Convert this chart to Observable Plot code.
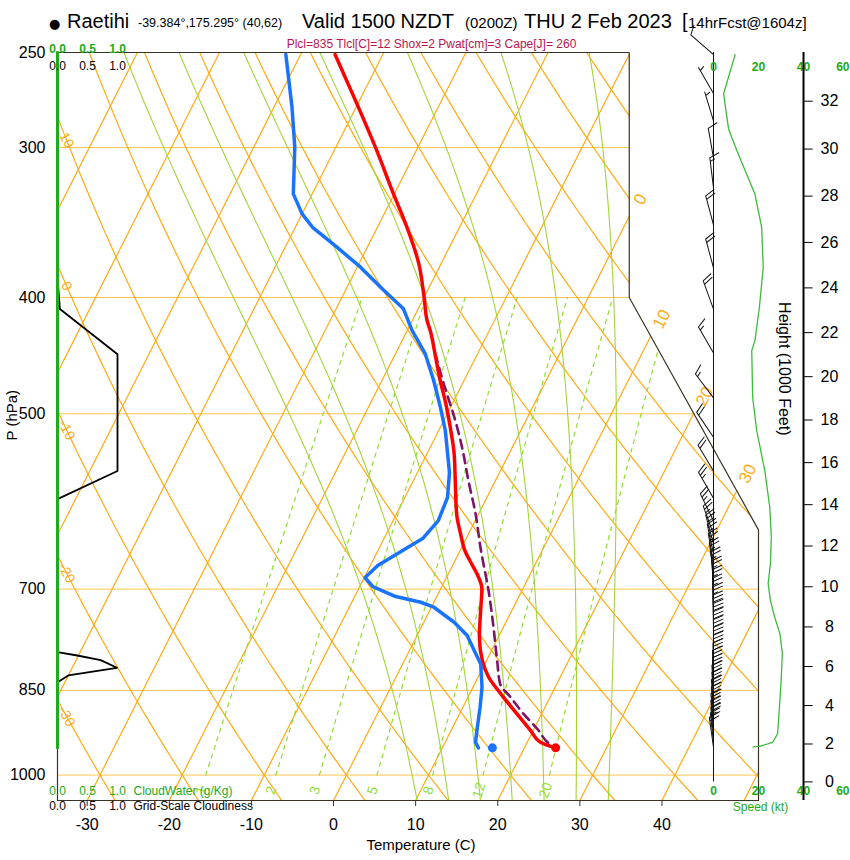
<!DOCTYPE html>
<html><head><meta charset="utf-8">
<script src="https://cdn.jsdelivr.net/npm/d3@7"></script>
<script src="https://cdn.jsdelivr.net/npm/@observablehq/plot@0.6"></script>
<style>
body{margin:0;background:#fff;font-family:"Liberation Sans",Arial,sans-serif;}
#wrap{position:relative;width:850px;height:860px;overflow:hidden;background:#fff;}
#wrap svg{position:absolute;left:0;top:0;}
.t{position:absolute;white-space:nowrap;line-height:1;color:#000;font-family:"Liberation Sans",Arial,sans-serif;}
</style></head><body><div id="wrap"></div>
<script>
// ---------------- DATA ----------------
const station = "Raetihi";
const stationInfo = "-39.384°,175.295° (40,62)";
const validText = "Valid 1500 NZDT";
const utcText = "(0200Z)";
const dateText = "THU 2 Feb 2023";
const fcstText = "14hrFcst@1604z]";
const statsText = "Plcl=835 Tlcl[C]=12 Shox=2 Pwat[cm]=3 Cape[J]= 260";

// temperature profile (hPa, °C)
const tempP = [251.0, 275.9, 301.8, 327.9, 349.6, 375.0, 399.8, 418.1, 426.2, 448.6, 469.1, 490.3, 513.1, 539.7, 568.4, 605.5, 629.1, 652.5, 662.6, 684.2, 699.2, 729.3, 767.7, 802.8, 828.9, 855.7, 889.2, 918.2, 939.0, 949.1];
const tempT = [-45.8, -40.1, -34.8, -30.1, -26.4, -22.7, -20.0, -18.2, -17.2, -14.9, -12.9, -10.8, -8.8, -6.7, -4.9, -2.7, -1.0, 0.8, 1.8, 3.9, 5.0, 6.2, 7.7, 9.5, 11.3, 13.8, 17.0, 19.7, 21.6, 23.8];
// dew point profile
const dewP = [251.0, 277.7, 299.8, 327.9, 340.7, 349.6, 363.2, 377.4, 394.7, 408.8, 426.2, 445.4, 469.1, 494.1, 516.3, 559.7, 587.2, 613.7, 635.2, 669.0, 684.6, 696.5, 710.0, 717.8, 724.7, 745.9, 765.1, 785.0, 807.9, 844.9, 878.0, 912.4, 939.0, 949.1];
const dewT = [-51.8, -47.8, -45.0, -42.3, -40.0, -37.9, -33.7, -29.6, -25.3, -21.8, -19.4, -16.4, -13.7, -11.2, -9.2, -6.1, -4.8, -4.5, -5.3, -9.1, -9.9, -8.4, -5.0, -1.6, 0.3, 3.7, 6.1, 7.7, 9.5, 11.1, 12.1, 13.0, 13.7, 14.4];
// lifted parcel
const parcelP = [445.2, 471.8, 506.5, 533.5, 568.4, 605.5, 646.3, 706.3, 753.1, 802.8, 839.5, 861.3, 889.2, 915.2, 945.0, 949.1];
const parcelT = [-15.2, -12.3, -8.6, -6.1, -3.3, -0.4, 2.3, 6.2, 8.8, 11.3, 13.1, 15.2, 17.8, 20.4, 23.2, 23.8];
// surface values
const surfaceP = [949.1];
const surfaceT = [23.8];
const surfaceTd = [16.1];
// grid-scale cloudiness (fraction) and cloud water (g/kg)
const cloudP = [250, 385, 409, 446, 558, 589, 790, 795, 802, 814, 826, 837, 949];
const cloudFrac = [0, 0, 0.04, 1.0, 1.0, 0, 0, 0.33, 0.72, 0.99, 0.18, 0, 0];
const cloudWaterP = [250, 949];
const cloudWater = [0, 0];
// wind barbs
const windP = [251, 270.5, 285, 306, 324, 348, 378, 409, 445, 485, 523, 558, 588, 614, 630, 642, 654, 666, 678, 690, 702, 714, 726, 738, 750, 762, 774, 786, 798, 810, 822, 834, 846, 858, 870, 882, 894, 906, 918, 930, 940, 948];
const windDir = [311, 330, 343, 350, 353, 345, 345, 340, 330, 323, 326, 329, 330, 334, 340, 345, 348, 350, 352, 355, 357, 358, 358, 359, 359, 360, 360, 360, 360, 360, 359, 358, 358, 357, 357, 356, 356, 355, 355, 355, 354, 352];
const windSpd = [10, 5, 5, 10, 15, 20, 20, 20, 15, 15, 20, 20, 25, 25, 26, 26, 25, 25, 25, 24, 24, 25, 26, 27, 28, 29, 30, 30, 31, 31, 31, 30, 30, 30, 30, 29, 29, 29, 28, 27, 25, 19];
// wind speed profile (kt)
const speedP = [251, 270.6, 289.5, 301.8, 327.9, 349.6, 377.5, 407.6, 434.5, 442.9, 484.4, 516.3, 557.6, 598.2, 633.7, 666.4, 692.5, 715.5, 738.8, 762.3, 792.1, 839, 883.6, 923.5, 939, 946.6, 947.5];
const speedKt = [9.6, 4.5, 6.7, 10.4, 18.4, 21.4, 22.1, 20.4, 18.4, 17.0, 17.4, 19.2, 22.8, 25.0, 25.7, 25.3, 24.3, 25.3, 27.2, 29.5, 30.6, 30.0, 29.2, 28.5, 26.3, 20.3, 17.6];

// ticks and background line values
const pressureTicks = [250, 300, 400, 500, 700, 850, 1000];
const isobars = [300, 400, 500, 700, 850, 1000];
const tempTicks = [-30, -20, -10, 0, 10, 20, 30, 40];
const heightTicks = [0, 2, 4, 6, 8, 10, 12, 14, 16, 18, 20, 22, 24, 26, 28, 30, 32];
const speedTicks = [0, 20, 40, 60];
const cloudTicks = [0, 0.5, 1.0];
const isotherms = [-110, -100, -90, -80, -70, -60, -50, -40, -30, -20, -10, 0, 10, 20, 30, 40, 50];
const isothermLabels = [0, 10, 20, 30];
const dryAdiabats = [-40, -30, -20, -10, 0, 10, 20, 30, 40, 50, 60, 70, 80, 90, 100, 110, 120, 130, 140, 150, 160, 170, 180, 190, 200];
const dryLabels = [10, 0, -10, -20, -30];
const moistAdiabats = [8, 12, 16, 20, 24, 28, 32];
const mixingRatios = [1, 2, 3, 5, 8, 12, 20];

// ---------------- skew-T geometry (NCL skewT coordinates) ----------------
const X0 = -19.0, X1 = 27.1, P_BOT = 1050, P_TOP = 250;
const skewY = p => 132.182 - 44.061 * Math.log10(p);
const skewX = (T, p) => 0.54 * T + 0.90692 * skewY(p);
const pAtY = Y => Math.pow(10, (132.182 - Y) / 44.061);
const cloudX = c => X0 + c * 3.946;          // cloud panel (0..1) at the left edge
const speedX = k => 24.14 + k * 0.148;       // wind speed panel (kt)
const HX = speedX(40);                       // height axis position
const isaP = kft => 1013.25 * Math.pow(1 - 6.8756e-6 * kft * 1000, 5.2559);

const ORANGE = "#ffaa14", ISOBAR = "#ffc550", MOIST = "#a2d43a", MIXR = "#93dc33", GREEN = "#1aab1a";

// background line generators
const thetaT = (th, p) => (th + 273.15) * Math.pow(p / 1000, 0.2857) - 273.15;
const esat = Tc => 6.112 * Math.exp(17.67 * Tc / (Tc + 243.5));
function moistLapse(p, Tc) {
  const T = Tc + 273.15, es = esat(Tc), rs = 0.622 * es / (p - es);
  const Lv = 2.501e6, Rd = 287.04, Cp = 1005.7;
  return (Rd * T + Lv * rs) / (p * (Cp + Lv * Lv * rs * 0.622 / (Rd * T * T)));
}
function moistLine(T0) {
  const down = []; let T = T0;
  for (let p = 1000; p < P_BOT; p += 5) { const k1 = moistLapse(p, T); const k2 = moistLapse(p + 2.5, T + k1 * 2.5); T += k2 * 5; down.push([p + 5, T]); }
  const up = [[1000, T0]]; T = T0;
  for (let p = 1000; p > P_TOP; p -= 5) { const k1 = moistLapse(p, T); const k2 = moistLapse(p - 2.5, T - k1 * 2.5); T -= k2 * 5; up.push([p - 5, T]); }
  return down.reverse().concat(up);
}
const tdFromW = (w, p) => { const e = w * p / (622 + w), l = Math.log(e / 6.112); return 243.5 * l / (17.67 - l); };

const isoData = isotherms.flatMap(T => [P_BOT, P_TOP].map(p => ({id: T, x: skewX(T, p), p})));
const dryData = [];
for (const th of dryAdiabats) for (let p = P_BOT; p >= P_TOP; p -= 10) dryData.push({id: th, x: skewX(thetaT(th, p), p), p});
const moistData = moistAdiabats.flatMap(T0 => moistLine(T0).map(([p, T]) => ({id: T0, x: skewX(T, p), p})));
const mixData = [];
for (const w of mixingRatios) for (let p = 1000; p >= 400; p -= 25) mixData.push({id: w, x: skewX(tdFromW(w, p), p), p});

// outline of the diagram
const pDiagTop = pAtY(17.53), pDiagBot = pAtY(9.0);
const outline = [[X0, P_BOT], [X1, P_BOT], [X1, pDiagBot], [18.6, pDiagTop], [18.6, P_TOP], [X0, P_TOP], [X0, P_BOT]];
const mask = [[18.6, 240], [27.6, 240], [27.6, pDiagBot], [X1, pDiagBot], [18.6, pDiagTop], [18.6, 240]];
const boundX = p => { const Y = skewY(p); return Y >= 17.53 ? 18.6 : Y >= 9 ? 18.6 + (17.53 - Y) * (8.5 / 8.53) : X1; };
function solveP(f) { let lo = P_TOP, hi = P_BOT; for (let i = 0; i < 60; i++) { const m = Math.sqrt(lo * hi); if (Math.sign(f(m)) === Math.sign(f(lo))) lo = m; else hi = m; } return Math.sqrt(lo * hi); }
const isoLabelData = isothermLabels.map(T => { const p = solveP(q => skewX(T, q) - boundX(q)); return {T, p, x: skewX(T, p)}; });
const dryLabelData = dryLabels.map(th => { const p = solveP(q => skewX(thetaT(th, q), q) - (X0 + 0.6)); return {th, p, x: skewX(thetaT(th, p), p)}; });
const mixLabelData = mixingRatios.map(w => ({w, p: 1030, x: skewX(tdFromW(w, 1030), 1030)}));

// profiles
const temp = tempP.map((p, i) => ({p, T: tempT[i]}));
const dew = dewP.map((p, i) => ({p, T: dewT[i]}));
const parcel = parcelP.map((p, i) => ({p, T: parcelT[i]}));
const cloud = cloudP.map((p, i) => ({p, c: cloudFrac[i]}));
const cwater = cloudWaterP.map((p, i) => ({p, c: cloudWater[i]}));
const speed = speedP.map((p, i) => ({p, k: speedKt[i]}));
const barbs = windP.map((p, i) => ({p, dir: windDir[i], spd: windSpd[i], r5: Math.round(windSpd[i] / 5) * 5}));

function barbShape(s) {
  return {draw(ctx, l) {
    ctx.moveTo(0, 0); ctx.lineTo(0, -l);
    let rest = s, y = -l; const fl = 9.5, gap = 3.6;
    while (rest >= 10) { ctx.moveTo(0, y); ctx.lineTo(fl, y - 4); y += gap; rest -= 10; }
    if (rest >= 5) { if (y === -l) y += gap; ctx.moveTo(0, y); ctx.lineTo(fl / 2, y - 2); }
  }};
}
const barbMarks = [...new Set(barbs.map(d => d.r5))].map(s =>
  Plot.vector(barbs.filter(d => d.r5 === s), {x: () => speedX(0), y: "p", rotate: "dir", length: 30, anchor: "start", shape: barbShape(s), stroke: "#111", strokeWidth: 1}));

const lastTick = speedTicks[speedTicks.length - 1];
const chart = Plot.plot({
  width: 850, height: 860,
  marginLeft: 57, marginRight: 92, marginTop: 52, marginBottom: 60,
  style: {fontFamily: "'Liberation Sans', Arial, sans-serif", background: "white", overflow: "visible"},
  x: {domain: [X0, X1]},
  y: {type: "log", domain: [P_BOT, P_TOP]},
  marks: [
    Plot.ruleY(isobars, {stroke: ISOBAR, strokeWidth: 1, clip: true}),
    Plot.line(isoData, {x: "x", y: "p", z: "id", stroke: ORANGE, strokeWidth: 1.2, clip: true}),
    Plot.line(dryData, {x: "x", y: "p", z: "id", stroke: ORANGE, strokeWidth: 1.2, clip: true}),
    Plot.line(moistData, {x: "x", y: "p", z: "id", stroke: MOIST, strokeWidth: 1.1, clip: true}),
    Plot.line(mixData, {x: "x", y: "p", z: "id", stroke: MIXR, strokeWidth: 1.2, strokeDasharray: "4,5", clip: true}),
    Plot.line(mask, {x: d => d[0], y: d => d[1], fill: "white", stroke: "none"}),
    Plot.line(outline, {x: d => d[0], y: d => d[1], stroke: "#3b3424", strokeWidth: 1.2}),
    // labels of background lines
    Plot.text(isoLabelData, {x: "x", y: "p", text: d => String(d.T), dx: 11, dy: -17, rotate: -63, fill: ORANGE, fontSize: 17}),
    Plot.text(dryLabelData, {x: "x", y: "p", text: d => String(d.th), rotate: 62, fill: ORANGE, fontSize: 14}),
    Plot.text(mixLabelData, {x: "x", y: "p", text: d => String(d.w), rotate: -72, fill: MIXR, fontSize: 14}),
    // cloud panel
    Plot.line(cloud, {x: d => cloudX(d.c), y: "p", stroke: "#000", strokeWidth: 1.8}),
    Plot.line(cwater, {x: d => cloudX(d.c), y: "p", stroke: "#1faa1f", strokeWidth: 3}),
    // sounding
    Plot.line(parcel, {x: d => skewX(d.T, d.p), y: "p", stroke: "#7d1467", strokeWidth: 2.6, strokeDasharray: "9,6", curve: "monotone-y"}),
    Plot.line(temp, {x: d => skewX(d.T, d.p), y: "p", stroke: "#ff0000", strokeWidth: 3.5, curve: "monotone-y"}),
    Plot.line(dew, {x: d => skewX(d.T, d.p), y: "p", stroke: "#1a73ff", strokeWidth: 3.5, curve: "linear"}),
    Plot.dot(surfaceP, {x: (p, i) => skewX(surfaceT[i], p), y: p => p, r: 4.5, fill: "#ff0000"}),
    Plot.dot(surfaceP, {x: (p, i) => skewX(surfaceTd[i], p), y: p => p, r: 4.5, fill: "#1a73ff"}),
    // wind panel
    Plot.ruleX([speedX(0)], {x: d => d, y1: () => isaP(0), y2: () => P_TOP, stroke: "#111", strokeWidth: 1}),
    ...barbMarks,
    Plot.line(speed, {x: d => speedX(d.k), y: "p", stroke: "#3cbb3c", strokeWidth: 1.3}),
    Plot.text(speedTicks.filter(k => k !== lastTick), {x: k => speedX(k), text: k => String(k), frameAnchor: "top", dy: 10, fill: GREEN, fontWeight: "bold", fontSize: 12}),
    Plot.text(speedTicks.filter(k => k !== lastTick), {x: k => speedX(k), text: k => String(k), frameAnchor: "bottom", dy: -6, fill: GREEN, fontWeight: "bold", fontSize: 12}),
    Plot.text([lastTick], {x: k => speedX(k), text: k => String(k), frameAnchor: "top", dy: 10, dx: 1, textAnchor: "end", fill: GREEN, fontWeight: "bold", fontSize: 12}),
    Plot.text([lastTick], {x: k => speedX(k), text: k => String(k), frameAnchor: "bottom", dy: -6, dx: 1, textAnchor: "end", fill: GREEN, fontWeight: "bold", fontSize: 12}),
    Plot.text(["Speed (kt)"], {x: () => speedX(20), text: d => d, frameAnchor: "bottom", dx: 2, dy: 10, fill: GREEN, fontSize: 12}),
    // height axis
    Plot.ruleX([HX], {x: d => d, y1: () => P_BOT, y2: () => P_TOP, stroke: "#000", strokeWidth: 2}),
    Plot.link(heightTicks, {x1: () => HX, x2: () => HX + 0.6, y1: h => isaP(h), y2: h => isaP(h), stroke: "#000", strokeWidth: 1}),
    Plot.text(heightTicks, {x: () => HX, y: h => isaP(h), text: h => String(h), dx: 26, fontSize: 16, fill: "#000"}),
    Plot.text(["Height (1000 Feet)"], {text: d => d, frameAnchor: "right", dx: 26, dy: 9, rotate: 90, fontSize: 16, fill: "#000"}),
    // cloud panel tick labels
    Plot.text(cloudTicks, {x: c => cloudX(c), text: c => c.toFixed(1), frameAnchor: "top", dy: -8, fill: GREEN, fontWeight: "bold", fontSize: 12}),
    Plot.text(cloudTicks, {x: c => cloudX(c), text: c => c.toFixed(1), frameAnchor: "top", dy: 9, fill: "#000", fontSize: 12}),
    Plot.text(cloudTicks, {x: c => cloudX(c), text: c => c.toFixed(1), frameAnchor: "bottom", dy: -6, fill: GREEN, fontSize: 12}),
    Plot.text(cloudTicks, {x: c => cloudX(c), text: c => c.toFixed(1), frameAnchor: "bottom", dy: 9, fill: "#000", fontSize: 12}),
    Plot.text(["CloudWater (g/Kg)"], {x: () => cloudX(1), text: d => d, frameAnchor: "bottom", dx: 16, dy: -6, textAnchor: "start", fill: GREEN, fontSize: 12}),
    Plot.text(["Grid-Scale Cloudiness"], {x: () => cloudX(1), text: d => d, frameAnchor: "bottom", dx: 16, dy: 9, textAnchor: "start", fill: "#000", fontSize: 12}),
    // axes
    Plot.axisY(pressureTicks, {tickSize: 0, tickPadding: 12, fontSize: 16, tickFormat: d => String(d), label: null, color: "#000"}),
    Plot.axisX(tempTicks.map(t => skewX(t, P_BOT)), {anchor: "bottom", tickSize: 6, tickPadding: 12, fontSize: 16, label: null,
      tickFormat: x => String(Math.round((x - skewX(0, P_BOT)) / 0.54)), stroke: "#333", color: "#000"}),
    Plot.text(["Temperature (C)"], {text: d => d, frameAnchor: "bottom", dx: 13, dy: 49, fontSize: 15, fill: "#000"}),
    Plot.text(["P (hPa)"], {text: d => d, frameAnchor: "left", dx: -45, dy: 14, rotate: -90, fontSize: 15, fill: "#000"})
  ]
});

const wrap = document.getElementById("wrap");
wrap.appendChild(chart);
function addText(txt, left, top, size, extra) {
  const s = document.createElement("span");
  s.className = "t"; s.textContent = txt;
  s.style.left = left + "px"; s.style.top = top + "px"; s.style.fontSize = size + "px";
  if (extra) Object.assign(s.style, extra);
  wrap.appendChild(s);
}
const base = 28;
addText("●", 49, base - 0.85 * 13, 13, {fontFamily: "'DejaVu Sans', sans-serif"});
addText(station, 67, base - 0.8465 * 20, 20);
addText(stationInfo, 138, base - 0.8465 * 12.5, 12.5);
addText(validText, 302, base - 0.8465 * 20, 20);
addText(utcText, 465, base - 0.8465 * 15, 15);
addText(dateText, 524, base - 0.8465 * 20, 20);
addText("[", 682, base - 0.8465 * 20, 20);
addText(fcstText, 688, base - 0.8465 * 15, 15);
addText(statsText, 431.5, 44 - 6, 12, {transform: "translateX(-50%)", color: "#b8154f"});
</script>
</body></html>
